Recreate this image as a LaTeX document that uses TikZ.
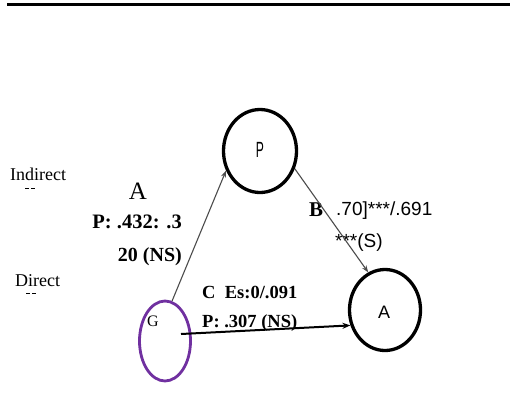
\documentclass[tikz,border=0pt]{standalone}
\usepackage{fontspec}
\setmainfont{Liberation Serif}
\newfontfamily\lsans{Liberation Sans}
\usetikzlibrary{arrows.meta,shapes.geometric}
\definecolor{gpurple}{HTML}{7030A0}
\begin{document}
\begin{tikzpicture}[x=1pt,y=-1pt,
  circ/.style={draw=black,line width=3.3pt,ellipse,inner sep=0pt},
  lbl/.style={inner sep=0pt,font=\fontsize{18}{20}\selectfont},
  blbl/.style={inner sep=0pt,font=\fontsize{18.5}{20}\selectfont\bfseries},
  slbl/.style={inner sep=0pt,font=\fontsize{19}{20}\selectfont\lsans},
  dashmark/.style={line width=1.6pt},
  thinarr/.style={draw=black!70,line width=1.1pt,-{Stealth[length=7pt,width=5pt]}},
  thickarr/.style={draw=black,line width=2pt,-{Stealth[length=8pt,width=6pt]}}
]
\useasboundingbox (0,0) rectangle (513,410);
\fill[white] (0,0) rectangle (513,410);
% top rule
\coordinate (r1) at (7,4.5);
\coordinate (r2) at (510,4.5);
\draw[line width=3.5pt] (r1) -- (r2);
% nodes
\node[circ,minimum width=73pt,minimum height=83pt] (P) at (260,151) {};
\node[circ,minimum width=71pt,minimum height=81pt] (A) at (385,310) {};
\node[circ,draw=gpurple,line width=2.8pt,minimum width=51pt,minimum height=80pt] (G) at (165,341) {};
\node[inner sep=0pt,font=\fontsize{22}{24}\selectfont\lsans] (Pl) at (260,150) {\scalebox{0.55}[1]{P}};
\node[slbl,font=\fontsize{18}{20}\selectfont\lsans] (Al) at (384,312) {A};
\node[inner sep=0pt,font=\fontsize{16}{18}\selectfont] (Gl) at (153,321) {G};
% side labels
\node[lbl,anchor=base west] (ind) at (10,180) {Indirect};
\draw[dashmark] (25,188.5) -- (29,188.5) (31,188.5) -- (35,188.5);
\node[lbl,anchor=base west] (dir) at (15,286) {Direct};
\draw[dashmark] (26,293.5) -- (30,293.5) (32,293.5) -- (36,293.5);
% path A labels
\node[inner sep=0pt,font=\fontsize{25}{26}\selectfont] (la) at (138,191) {A};
\node[blbl,anchor=base east,font=\fontsize{20.5}{22}\selectfont\bfseries] (la2) at (182,228) {P: .432: .3};
\node[blbl,anchor=base east,font=\fontsize{20}{22}\selectfont\bfseries] (la3) at (182,261) {20 (NS)};
% path B labels
\node[inner sep=0pt,anchor=base west,font=\fontsize{21}{22}\selectfont\bfseries] (lb) at (309,216) {B};
\node[slbl,anchor=base west] (lb2) at (336,215) {.70]***/.691};
\node[slbl,anchor=base west] (lb3) at (335,247) {***(S)};
% path C labels
\node[blbl,anchor=base west] (lc) at (202,298) {C\ \ Es:0/.091};
\node[blbl,anchor=base west] (lc2) at (202,327) {P: .307 (NS)};
% connectors
\coordinate (gs) at (181,334);
\draw[thinarr] (G.80) -- (P.210);
\draw[thinarr] (P.333) -- (A.114);
\draw[thickarr] (gs) -- (A.204);
\end{tikzpicture}
\end{document}
